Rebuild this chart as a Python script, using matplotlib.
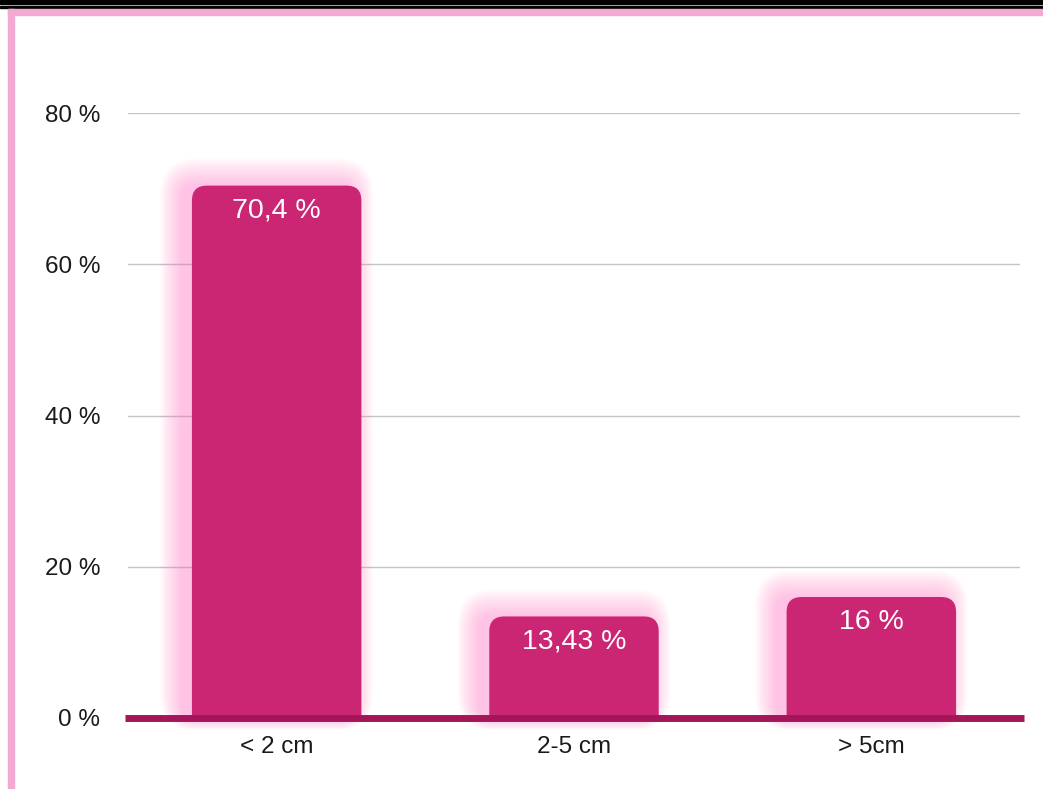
import matplotlib.pyplot as plt
from matplotlib.patches import FancyBboxPatch, Rectangle, PathPatch
from matplotlib.path import Path

plt.rcParams['font.family'] = ['Liberation Sans', 'DejaVu Sans']

# tumour size groups and share of cases
categories = ['< 2 cm', '2-5 cm', '> 5cm']
values = [70.4, 13.43, 16]
labels = ['70,4 %', '13,43 %', '16 %']
yticks = [0, 20, 40, 60, 80]
ytick_labels = ['0 %', '20 %', '40 %', '60 %', '80 %']

W, H = 1043, 789
fig = plt.figure(figsize=(W / 100, H / 100), dpi=100)
fig.patch.set_facecolor('white')

# page frame: double black rule on top, pink border
def px_rect(x0, y0, x1, y1, color):
    fig.patches.append(Rectangle((x0 / W, 1 - y1 / H), (x1 - x0) / W, (y1 - y0) / H,
                                 transform=fig.transFigure, color=color, zorder=0))

px_rect(0, 0, W, 4, 'black')
px_rect(0, 6.3, W, 8.2, 'black')
px_rect(8, 9.3, W, 15, '#F2A9D2')
px_rect(8, 9.3, 14, H, '#F2A9D2')

ax = fig.add_axes([128 / W, (H - 718) / H, (1020 - 128) / W, (718 - 113) / H])
ax.set_xlim(-0.5, 2.5)
ax.set_ylim(0, 80)

bar_color = '#CB2673'
glow_color = '#FF7ACB'
width = 0.57

# pixels per data unit
px_x = (1020 - 128) / 3.0
px_y = (718 - 113) / 80.0
aspect = px_x / px_y


def top_rounded(x0, w, h, r_px):
    rx, ry = r_px / px_x, r_px / px_y
    verts = [(x0, 0), (x0, h - ry), (x0, h), (x0 + rx, h),
             (x0 + w - rx, h), (x0 + w, h), (x0 + w, h - ry),
             (x0 + w, 0), (x0, 0)]
    codes = [Path.MOVETO, Path.LINETO, Path.CURVE3, Path.CURVE3,
             Path.LINETO, Path.CURVE3, Path.CURVE3, Path.LINETO, Path.CLOSEPOLY]
    return Path(verts, codes)


for i, v in enumerate(values):
    x0 = i - width / 2
    # soft glow, stronger on the left side of each bar
    for k in range(18, 0, -1):
        g = k * 1.2
        ax.add_patch(FancyBboxPatch((x0 - 10 / px_x, g * 0.45 / px_y), width, v - g * 0.2 / px_y,
                                    boxstyle=f'round,pad={g / px_x},rounding_size={(14 + g) / px_x}',
                                    mutation_aspect=aspect, facecolor=glow_color,
                                    edgecolor='none', alpha=0.028, zorder=1, clip_on=False))
    ax.add_patch(PathPatch(top_rounded(x0, width, v, 15), facecolor=bar_color,
                           edgecolor='none', zorder=3))
    ax.text(i, v - 25 / px_y, labels[i], ha='center', va='center', color='white',
            fontsize=20.5, zorder=4)

# baseline
ax.axhline(0, xmin=-0.003, xmax=1.004, color='#A3175A', lw=5, zorder=5, clip_on=False,
           solid_capstyle='butt')

ax.set_yticks(yticks)
ax.set_yticklabels(ytick_labels)
ax.set_xticks(range(len(categories)))
ax.set_xticklabels(categories)
ax.tick_params(axis='both', length=0, labelsize=17.5, colors='#1a1a1a')
ax.tick_params(axis='y', pad=20)
ax.tick_params(axis='x', pad=13)
ax.grid(axis='y', color='#c4c4c4', lw=1)
ax.set_axisbelow(True)
for s in ax.spines.values():
    s.set_visible(False)

fig.savefig('out.png', dpi=100)
